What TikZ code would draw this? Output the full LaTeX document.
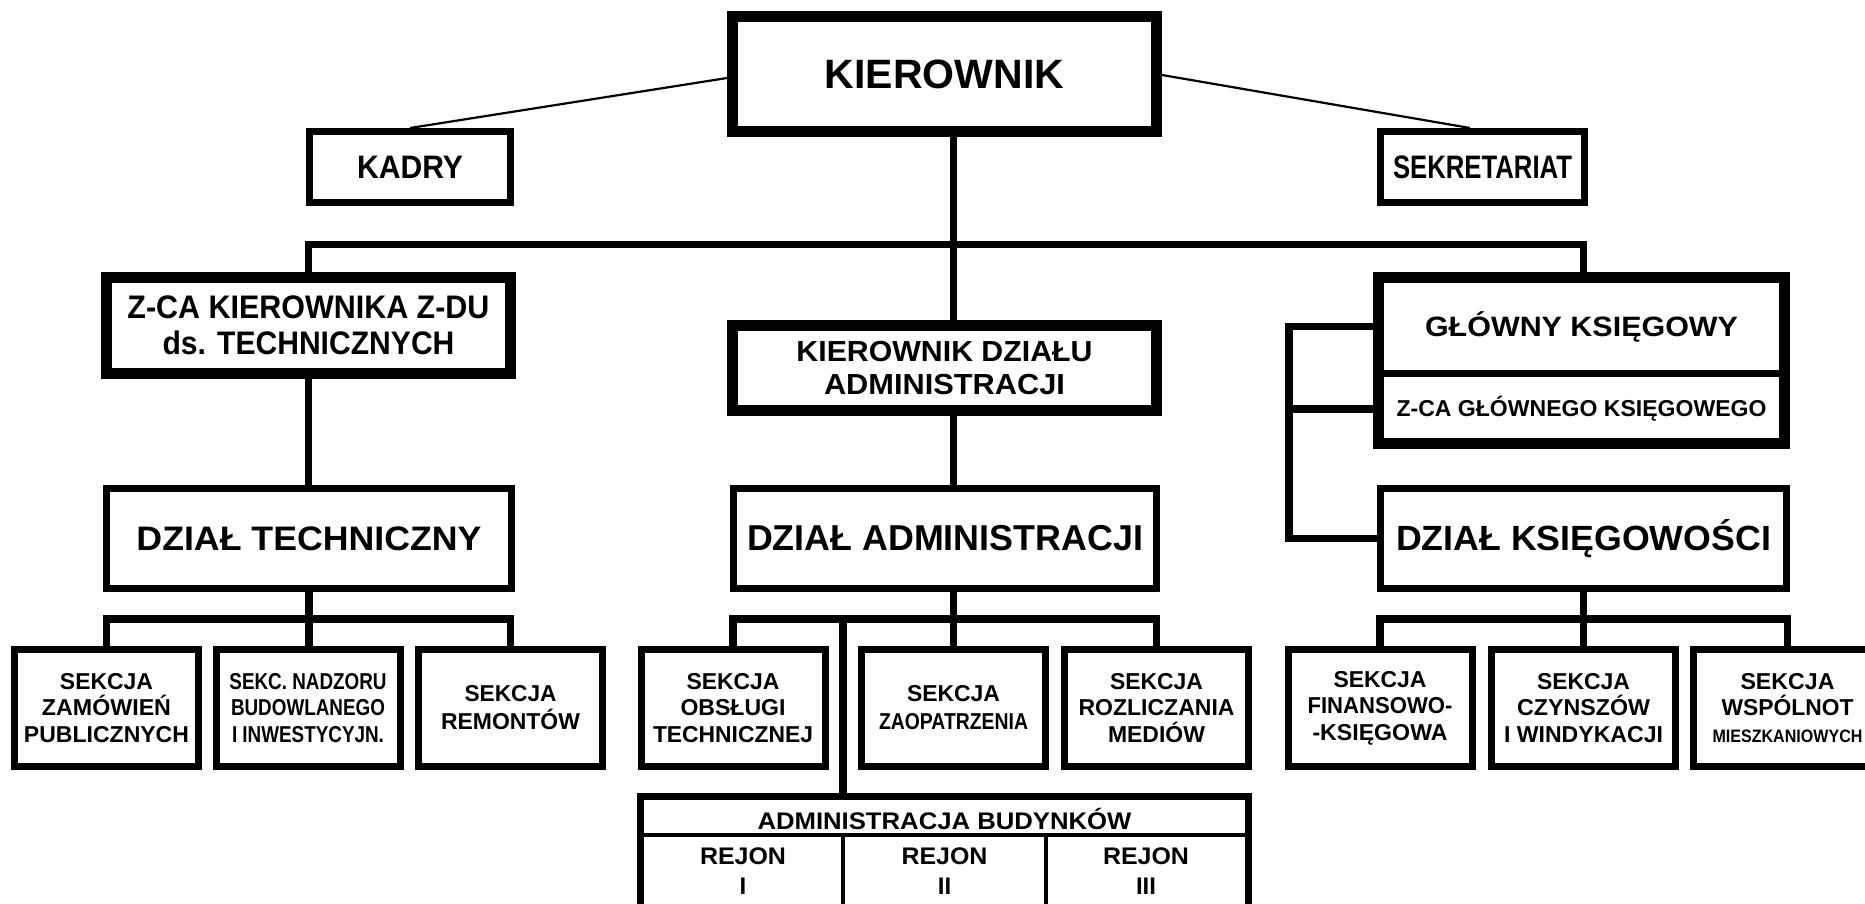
\documentclass[tikz,border=0pt]{standalone}
\usepackage{fontspec}
\setmainfont{Liberation Sans}
\usepackage{graphicx}
\newcommand{\myfw}[2]{\resizebox{#1pt}{\height}{#2}}
\newcommand{\myfs}[2]{\fontsize{#1pt}{#2pt}\selectfont}
\begin{document}
\begin{tikzpicture}[x=1pt,y=-1pt,
  box/.style={draw,line width=7pt,inner sep=0pt,align=center},
  bigbox/.style={box,line width=11pt},
  sec/.style={box,minimum width=184pt,minimum height=117pt,font={\bfseries\myfs{23}{26.5}}},
  sectwo/.style={sec,font={\bfseries\myfs{23}{28}}},
  lbl/.style={inner sep=0pt,align=center},
  conn/.style={line width=7.5pt},
  side/.style={line width=2.2pt}]
\fill[white] (0,0) rectangle (1865,903);
\clip (0,0) rectangle (1865,903);

% top level
\node[bigbox,minimum width=424pt,minimum height=115pt,font={\bfseries\myfs{41}{45}}] (kier) at (944.5,74) {KIEROWNIK};
\node[box,minimum width=201pt,minimum height=71pt,font={\bfseries\myfs{32.5}{36}}] (kadry) at (410,167) {\myfw{106}{KADRY}};
\node[box,minimum width=204pt,minimum height=71pt,font={\bfseries\myfs{32.5}{36}}] (sekr) at (1482.5,167) {\myfw{179}{SEKRETARIAT}};

% second level
\node[bigbox,minimum width=404pt,minimum height=96pt,font={\bfseries\myfs{32.6}{35.7}}] (zca) at (308.5,325.5) {\myfw{362}{Z-CA KIEROWNIKA Z-DU}\\\myfw{292}{ds. TECHNICZNYCH}};
\node[bigbox,minimum width=424pt,minimum height=85pt,font={\bfseries\myfs{29}{33}}] (kdz) at (944.5,368) {\myfw{296}{KIEROWNIK DZIAŁU}\\\myfw{241}{ADMINISTRACJI}};
\node[bigbox,minimum width=406pt,minimum height=166pt] (gk) at (1581.5,360.5) {};
\coordinate (gdiv) at (1581.5,373.5);
\draw[line width=7.5pt] (gk.west |- gdiv) -- (gk.east |- gdiv);
\node[lbl,font={\bfseries\myfs{28}{32}}] (glowny) at (1581.5,326.5) {\myfw{313}{GŁÓWNY KSIĘGOWY}};
\node[lbl,font={\bfseries\myfs{23}{26}}] (zcag) at (1581.5,409) {\myfw{370}{Z-CA GŁÓWNEGO KSIĘGOWEGO}};

% departments
\node[box,minimum width=405pt,minimum height=100pt,font={\bfseries\myfs{34}{38}}] (dzt) at (309,538.5) {\myfw{345}{DZIAŁ TECHNICZNY}};
\node[box,minimum width=423pt,minimum height=100pt,font={\bfseries\myfs{36}{40}}] (dza) at (945,538.5) {\myfw{396}{DZIAŁ ADMINISTRACJI}};
\node[box,minimum width=406pt,minimum height=100pt,font={\bfseries\myfs{35}{39}}] (dzk) at (1583.5,538.5) {\myfw{375}{DZIAŁ KSIĘGOWOŚCI}};

% sections
\node[sec] (s1) at (106.5,708) {\myfw{93}{SEKCJA}\\\myfw{129}{ZAMÓWIEŃ}\\\myfw{165}{PUBLICZNYCH}};
\node[sec] (s2) at (308,708) {\myfw{157}{SEKC. NADZORU}\\\myfw{154}{BUDOWLANEGO}\\\myfw{152}{I INWESTYCYJN.}};
\node[sectwo] (s3) at (510.5,708) {\myfw{92}{SEKCJA}\\\myfw{139}{REMONTÓW}};
\node[sec] (s4) at (733,708) {\myfw{93}{SEKCJA}\\\myfw{105}{OBSŁUGI}\\\myfw{160}{TECHNICZNEJ}};
\node[sectwo] (s5) at (953.5,708) {\myfw{93}{SEKCJA}\\\myfw{149}{ZAOPATRZENIA}};
\node[sec] (s6) at (1156.5,708) {\myfw{93}{SEKCJA}\\\myfw{156}{ROZLICZANIA}\\\myfw{97}{MEDIÓW}};
\node[sec] (s7) at (1380,708) {\myfw{93}{SEKCJA}\\\myfw{145}{FINANSOWO-}\\\myfw{135}{-KSIĘGOWA}};
\node[sec] (s8) at (1583.5,708) {\myfw{93}{SEKCJA}\\\myfw{133}{CZYNSZÓW}\\\myfw{159}{I WINDYKACJI}};
\node[sec,minimum width=188pt] (s9) at (1787.5,708) {\myfw{94}{SEKCJA}\\\myfw{132}{WSPÓLNOT}\\\myfw{150}{\myfs{18}{20}MIESZKANIOWYCH}};

% buildings administration table
\node[box,minimum width=608pt,minimum height=130pt] (bud) at (944.5,861.5) {};
\coordinate (hdiv) at (944.5,835);
\draw[line width=4pt] (bud.west |- hdiv) -- (bud.east |- hdiv);
\node[lbl,font={\bfseries\myfs{24}{28}}] (budh) at (944.5,818.5) {\myfw{374}{ADMINISTRACJA BUDYNKÓW}};
\coordinate (c1) at (843,835);
\coordinate (c2) at (1046,835);
\draw[line width=3.5pt] (c1) -- (c1 |- bud.south);
\draw[line width=3.5pt] (c2) -- (c2 |- bud.south);
\node[lbl,font={\bfseries\myfs{24}{30}}] (r1) at (743,871.5) {\myfw{86}{REJON}\\I};
\node[lbl,font={\bfseries\myfs{24}{30}}] (r2) at (944.5,871.5) {\myfw{86}{REJON}\\II};
\node[lbl,font={\bfseries\myfs{24}{30}}] (r3) at (1146,871.5) {\myfw{86}{REJON}\\III};

% connectors
\coordinate (bj) at (953.5,244.5);
\coordinate (bR) at (1583.5,244.5);
\draw[side] ([yshift=-4pt]kier.west) -- (kadry.north);
\draw[side] ([yshift=-1pt]kier.east) -- ([xshift=-12.5pt]sekr.north);
\draw[conn] (kier.south -| bj) -- (kdz.north -| bj);
\draw[conn] (zca.north) |- (bj) -- (bR) -- (bR |- gk.north);
\draw[conn] (kdz.south -| bj) -- (dza.north -| bj);
\draw[conn] (dza.south -| bj) -- (s5.north -| bj);
\draw[conn] (zca.south) -- (zca.south |- dzt.north);
\coordinate (tb) at (309,619);
\draw[conn] (s1.north) |- (tb) -| (s3.north);
\draw[conn] (dzt.south) -- (dzt.south |- s2.north);
\coordinate (ab) at (953.5,619);
\draw[conn] (s4.north) |- (ab) -| (s6.north);
\coordinate (abj) at (843,619);
\draw[conn] (abj) -- (abj |- bud.north);
\coordinate (kb) at (1583.5,619);
\draw[conn] (s7.north) |- (kb) -| (s9.north);
\draw[conn] (dzk.south) -- (s8.north);
\coordinate (brk) at (1289,0);
\draw[conn] (glowny -| gk.west) -| (brk |- dzk) -- (dzk.west);
\draw[conn] (zcag -| gk.west) -- (zcag -| brk);
\end{tikzpicture}
\end{document}
